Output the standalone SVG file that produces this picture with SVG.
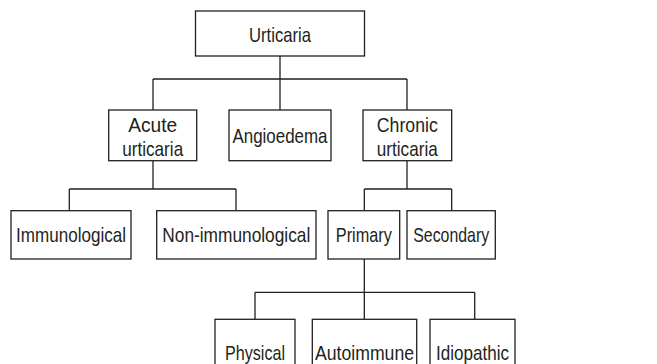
<svg xmlns="http://www.w3.org/2000/svg" width="657" height="364" viewBox="0 0 657 364">
<style>
rect{fill:#fff;stroke:#231f20;stroke-width:1.3}
text{font-family:"Liberation Sans",Arial,sans-serif;font-size:21px;fill:#231f20;text-anchor:middle}
.c{fill:none;stroke:#231f20;stroke-width:1.3}
</style>
<rect x="0" y="0" width="657" height="364" style="fill:#fff;stroke:none"/>
<g id="connectors" class="c">
<path d="M280,56V79M153,79H407M153,79V110M280,79V110M407,79V110"/>
<path d="M153,160.7V189M69.3,189H236M69.3,189V210.7M236,189V210.7"/>
<path d="M407,160.7V189M364.3,189H451.7M364.3,189V210.7M451.7,189V210.7"/>
<path d="M364.3,259V292.3M255,292.3H474.7M255,292.3V319.3M364.3,292.3V319.3M474.7,292.3V319.3"/>
</g>
<g id="urticaria"><rect x="195.5" y="11" width="169" height="45"/><text x="280" y="41.5" textLength="62" lengthAdjust="spacingAndGlyphs">Urticaria</text></g>
<g id="acute"><rect x="108.7" y="110" width="88" height="50.7"/><text x="152.7" y="131.7" textLength="49" lengthAdjust="spacingAndGlyphs">Acute</text><text x="152.7" y="155.7" textLength="61" lengthAdjust="spacingAndGlyphs">urticaria</text></g>
<g id="angioedema"><rect x="229" y="110" width="102" height="50.7"/><text x="280" y="143.3" textLength="95" lengthAdjust="spacingAndGlyphs">Angioedema</text></g>
<g id="chronic"><rect x="363" y="110" width="88.7" height="50.7"/><text x="407.3" y="131.7" textLength="61" lengthAdjust="spacingAndGlyphs">Chronic</text><text x="407.3" y="155.7" textLength="61" lengthAdjust="spacingAndGlyphs">urticaria</text></g>
<g id="immunological"><rect x="11" y="210.7" width="120" height="48.3"/><text x="71" y="242" textLength="110" lengthAdjust="spacingAndGlyphs">Immunological</text></g>
<g id="nonimmunological"><rect x="156.7" y="210.7" width="159.3" height="48.3"/><text x="236.3" y="242" textLength="148" lengthAdjust="spacingAndGlyphs">Non-immunological</text></g>
<g id="primary"><rect x="328" y="210.7" width="71.7" height="48.3"/><text x="363.8" y="242" textLength="56" lengthAdjust="spacingAndGlyphs">Primary</text></g>
<g id="secondary"><rect x="407" y="210.7" width="88.3" height="48.3"/><text x="451.2" y="242" textLength="76" lengthAdjust="spacingAndGlyphs">Secondary</text></g>
<g id="physical"><rect x="215" y="319.3" width="80" height="60"/><text x="255" y="360" textLength="60" lengthAdjust="spacingAndGlyphs">Physical</text></g>
<g id="autoimmune"><rect x="312.3" y="319.3" width="104.4" height="60"/><text x="364.5" y="360" textLength="99" lengthAdjust="spacingAndGlyphs">Autoimmune</text></g>
<g id="idiopathic"><rect x="430" y="319.3" width="85" height="60"/><text x="472.5" y="360" textLength="73" lengthAdjust="spacingAndGlyphs">Idiopathic</text></g>
</svg>
